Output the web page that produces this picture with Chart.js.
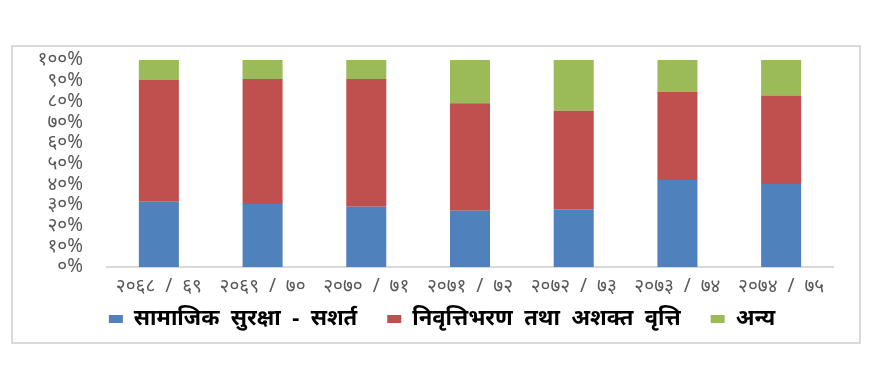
<!DOCTYPE html>
<html>
<head>
<meta charset="utf-8">
<script src="https://cdn.jsdelivr.net/npm/chart.js@4.4.1/dist/chart.umd.min.js"></script>
<style>
  html, body { margin: 0; padding: 0; background: #ffffff; }
  #wrap { position: relative; width: 884px; height: 384px; }
  #frame { position: absolute; left: 11px; top: 45px; width: 846px; height: 295px; border: 2px solid #d9d9d9; }
  canvas { position: absolute; left: 0; top: 0; }
</style>
</head>
<body>
<div id="wrap">
  <div id="frame"></div>
  <canvas id="c" width="884" height="384"></canvas>
</div>
<script>
const categories = ["२०६८  /  ६९", "२०६९  /  ७०", "२०७०  /  ७१", "२०७१  /  ७२", "२०७२  /  ७३", "२०७३  /  ७४", "२०७४  /  ७५"];
const seriesNames = ["सामाजिक  सुरक्षा  -  सशर्त", "निवृत्तिभरण  तथा  अशक्त  वृत्ति", "अन्य"];
const socialSecurity = [31.5, 30.4, 29.1, 27.2, 27.9, 42.0, 40.1];
const pension = [58.8, 60.4, 61.7, 51.9, 47.6, 42.5, 42.7];
const others = [9.7, 9.2, 9.2, 20.9, 24.5, 15.5, 17.2];
const yTickLabels = ["०%", "१०%", "२०%", "३०%", "४०%", "५०%", "६०%", "७०%", "८०%", "९०%", "१००%"];
const colors = ["#4F81BD", "#C0504D", "#9BBB59"];

const legendLift = {
  id: 'legendLift',
  afterLayout(chart) {
    const lg = chart.legend;
    if (lg) { lg.top -= 23; lg.bottom -= 23; }
  }
};

const ctx = document.getElementById('c');
new Chart(ctx, {
  type: 'bar',
  data: {
    labels: categories,
    datasets: [
      { label: seriesNames[0], data: socialSecurity, backgroundColor: colors[0] },
      { label: seriesNames[1], data: pension, backgroundColor: colors[1] },
      { label: seriesNames[2], data: others, backgroundColor: colors[2] }
    ]
  },
  plugins: [legendLift],
  options: {
    responsive: false,
    animation: false,
    devicePixelRatio: 1,
    layout: { padding: { left: 0, right: 0, top: 60, bottom: 21 } },
    datasets: { bar: { barPercentage: 0.386, categoryPercentage: 1.0 } },
    plugins: {
      tooltip: { enabled: false },
      legend: {
        position: 'bottom',
        labels: {
          boxWidth: 14, boxHeight: 8, padding: 30,
          color: '#000000',
          font: { family: "'Noto Sans', sans-serif", size: 22, weight: 'bold' }
        }
      }
    },
    scales: {
      x: {
        stacked: true,
        grid: { display: false, drawTicks: false },
        border: { display: true, color: '#d9d9d9', width: 2 },
        ticks: { color: '#595959', padding: 8, maxRotation: 0, autoSkip: false,
                 font: { family: "'Noto Sans', sans-serif", size: 19 } },
        afterFit: (s) => { s.height = 34; }
      },
      y: {
        stacked: true,
        min: 0, max: 100,
        grid: { display: false, drawTicks: false },
        border: { display: false },
        ticks: { stepSize: 10, padding: 24, color: '#595959', autoSkip: false,
                 font: { family: "'Noto Sans', sans-serif", size: 19 },
                 callback: (v) => yTickLabels[Math.round(v / 10)] },
        afterFit: (s) => { s.width = 107; }
      },
      yRight: {
        position: 'right',
        display: true,
        grid: { display: false, drawTicks: false },
        border: { display: false },
        ticks: { display: false },
        afterFit: (s) => { s.width = 51; }
      }
    }
  }
});
</script>
</body>
</html>
